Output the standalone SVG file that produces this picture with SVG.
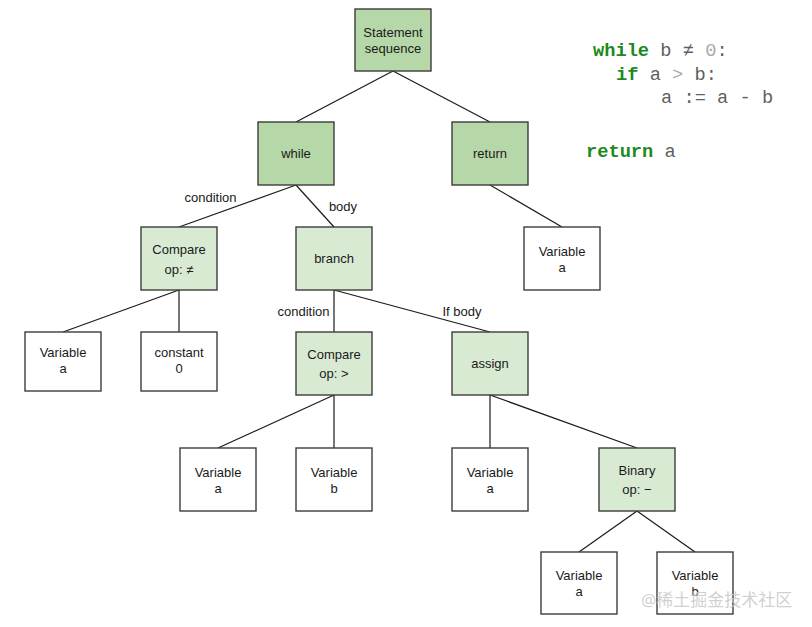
<svg xmlns="http://www.w3.org/2000/svg" width="812" height="627" viewBox="0 0 812 627">
<style>
.n rect{stroke:#3c3c3c;stroke-width:1.4}
.d rect{fill:#b6d7a8}
.l rect{fill:#d9ead3}
.w rect{fill:#ffffff}
.n text,.lab{font-family:"Liberation Sans",Arial,sans-serif;font-size:13px;fill:#1a1a1a;text-anchor:middle}
#edges line{stroke:#1a1a1a;stroke-width:1.2}
.code{font-family:"Liberation Mono","Courier New",monospace;font-size:18.7px;fill:#5f5f5f}
.kw{fill:#1c8a1c;font-weight:bold}
.lt{fill:#aaaaaa}
</style>
<rect width="812" height="627" fill="#ffffff"/>
<g id="edges">
<line x1="393" y1="71" x2="296" y2="122"/>
<line x1="393" y1="71" x2="490" y2="122"/>
<line x1="296" y1="185" x2="179" y2="227"/>
<line x1="296" y1="185" x2="334" y2="227"/>
<line x1="490" y1="185" x2="562" y2="227"/>
<line x1="179" y1="290" x2="63" y2="332"/>
<line x1="179" y1="290" x2="179" y2="332"/>
<line x1="334" y1="290" x2="334" y2="332"/>
<line x1="334" y1="290" x2="490" y2="332"/>
<line x1="334" y1="395" x2="218" y2="448"/>
<line x1="334" y1="395" x2="334" y2="448"/>
<line x1="490" y1="395" x2="490" y2="448"/>
<line x1="490" y1="395" x2="637" y2="448"/>
<line x1="637" y1="511" x2="579" y2="552"/>
<line x1="637" y1="511" x2="695" y2="552"/>
</g>
<g id="edge-labels">
<text class="lab" x="210.5" y="201.5">condition</text>
<text class="lab" x="343" y="211">body</text>
<text class="lab" x="303.5" y="316">condition</text>
<text class="lab" x="462" y="316">If body</text>
</g>
<g id="n-stmt" class="n d"><rect x="355" y="9" width="76" height="62"/><text x="393" y="37">Statement</text><text x="393" y="53">sequence</text></g>
<g id="n-while" class="n d"><rect x="258" y="122" width="76" height="63"/><text x="296" y="158">while</text></g>
<g id="n-return" class="n d"><rect x="452" y="122" width="76" height="63"/><text x="490" y="158">return</text></g>
<g id="n-cmp1" class="n l"><rect x="141" y="227" width="76" height="63"/><text x="179" y="254">Compare</text><text x="179" y="273.5">op: ≠</text></g>
<g id="n-branch" class="n l"><rect x="296" y="227" width="76" height="63"/><text x="334" y="263">branch</text></g>
<g id="n-var-ret" class="n w"><rect x="524" y="227" width="76" height="63"/><text x="562" y="256">Variable</text><text x="562" y="272">a</text></g>
<g id="n-var-a1" class="n w"><rect x="25" y="332" width="76" height="59"/><text x="63" y="357">Variable</text><text x="63" y="373">a</text></g>
<g id="n-const" class="n w"><rect x="141" y="332" width="76" height="59"/><text x="179" y="357">constant</text><text x="179" y="373">0</text></g>
<g id="n-cmp2" class="n l"><rect x="296" y="332" width="76" height="63"/><text x="334" y="358.5">Compare</text><text x="334" y="377.5">op: &gt;</text></g>
<g id="n-assign" class="n l"><rect x="452" y="332" width="76" height="63"/><text x="490" y="368">assign</text></g>
<g id="n-var-a2" class="n w"><rect x="180" y="448" width="76" height="63"/><text x="218" y="477">Variable</text><text x="218" y="493">a</text></g>
<g id="n-var-b1" class="n w"><rect x="296" y="448" width="76" height="63"/><text x="334" y="477">Variable</text><text x="334" y="493">b</text></g>
<g id="n-var-a3" class="n w"><rect x="452" y="448" width="76" height="63"/><text x="490" y="477">Variable</text><text x="490" y="493">a</text></g>
<g id="n-binary" class="n l"><rect x="599" y="448" width="76" height="63"/><text x="637" y="475">Binary</text><text x="637" y="494">op: −</text></g>
<g id="n-var-a4" class="n w"><rect x="541" y="552" width="76" height="62"/><text x="579" y="580">Variable</text><text x="579" y="596">a</text></g>
<g id="n-var-b2" class="n w"><rect x="657" y="552" width="76" height="62"/><text x="695" y="580">Variable</text><text x="695" y="596">b</text></g>
<g id="code">
<text class="code" x="593" y="56" xml:space="preserve"><tspan class="kw">while</tspan> b ≠ <tspan class="lt">0</tspan>:</text>
<text class="code" x="616" y="80" xml:space="preserve"><tspan class="kw">if</tspan> a <tspan class="lt">&gt;</tspan> b:</text>
<text class="code" x="661" y="103" xml:space="preserve">a := a - b</text>
<text class="code" x="586" y="157" xml:space="preserve"><tspan class="kw">return</tspan> a</text>
</g>
<text x="641" y="605.5" font-family="'Noto Sans','Noto Sans CJK SC',sans-serif" font-size="17" fill="#c8c8c8" fill-opacity="0.85">@稀土掘金技术社区</text>
</svg>
